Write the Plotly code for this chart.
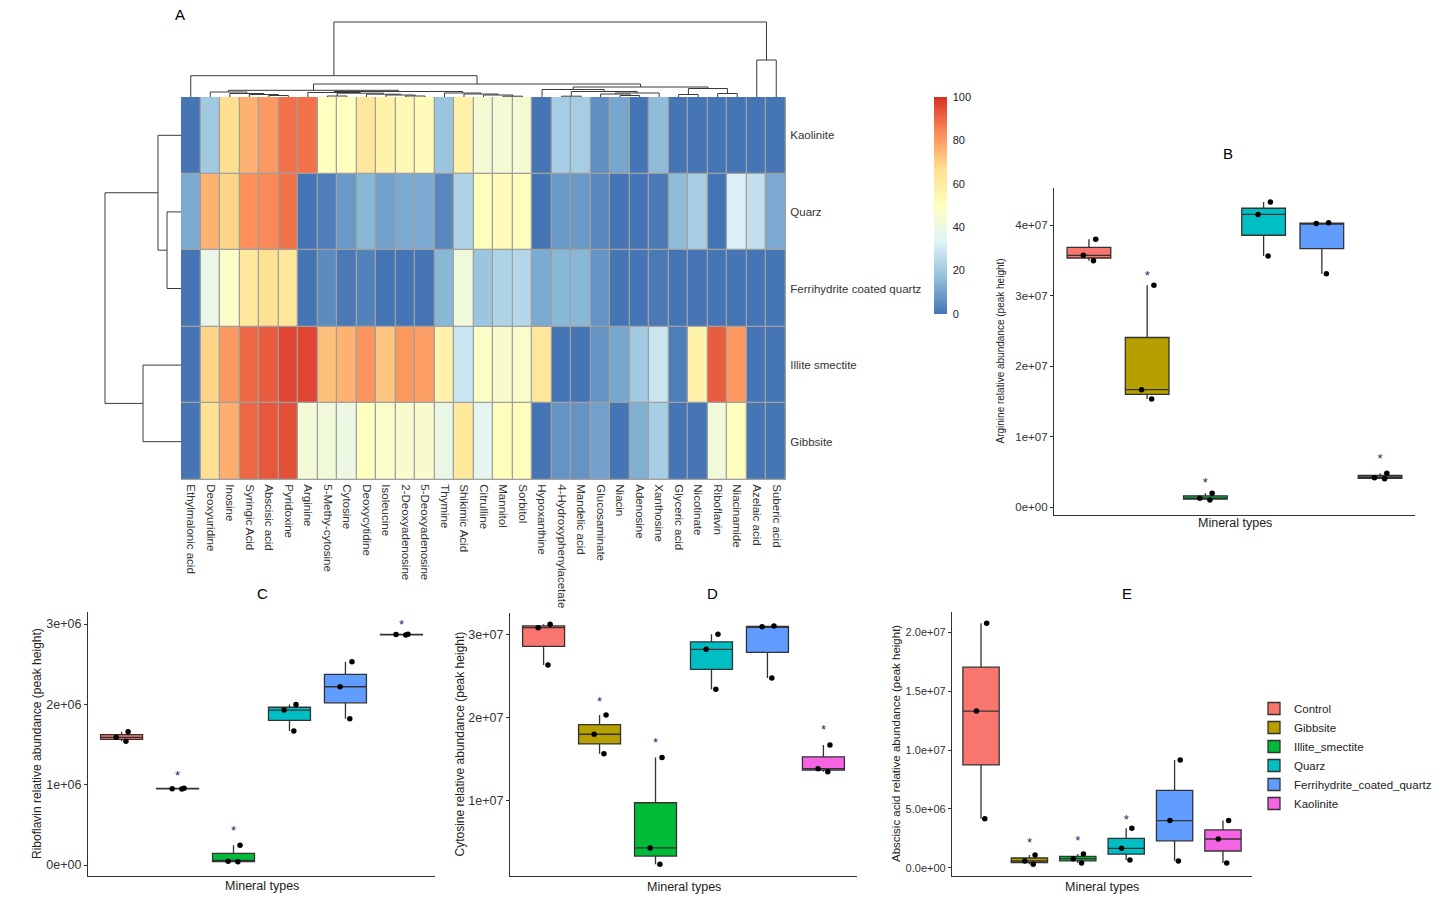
import plotly.graph_objects as go

W, H = 1448, 906

# ---------------- Heatmap data ----------------
metabolites = ["Ethylmalonic acid", "Deoxyuridine", "Inosine", "Syringic Acid", "Abscisic acid",
               "Pyridoxine", "Arginine", "5-Methy-cytosine", "Cytosine", "Deoxycytidine",
               "Isoleucine", "2-Deoxyadenosine", "5-Deoxyadenosine", "Thymine", "Shikimic Acid",
               "Citrulline", "Mannitol", "Sorbitol", "Hypoxanthine", "4-Hydroxyphenylacetate",
               "Mandelic acid", "Glucosaminate", "Niacin", "Adenosine", "Xanthosine",
               "Glyceric acid", "Nicotinate", "Riboflavin", "Niacinamide", "Azelaic acid",
               "Suberic acid"]
heat_rows = ["Kaolinite", "Quarz", "Ferrihydrite coated quartz", "Illite smectite", "Gibbsite"]

kaolinite_vals = [0, 20, 67, 76, 81, 88, 88, 50, 50, 63, 57, 54, 52, 19, 58, 44, 44, 44,
                  0, 21, 21, 6, 11, 0, 16, 0, 0, 0, 0, 0, 0]
quarz_vals = [12, 76, 69, 83, 84, 88, 0, 2, 8, 15, 10, 12, 12, 4, 23, 51, 52, 51,
              0, 8, 8, 4, 0, 0, 1, 16, 21, 0, 32, 27, 12]
ferri_vals = [0, 38, 48, 62, 66, 63, 0, 5, 1, 3, 0, 0, 0, 15, 42, 19, 23, 24,
              12, 15, 15, 7, 0, 0, 1, 0, 0, 0, 0, 0, 0]
illite_vals = [0, 69, 81, 90, 92, 96, 96, 73, 76, 82, 72, 81, 80, 57, 29, 48, 46, 47,
               63, 0, 0, 7, 11, 20, 29, 2, 57, 92, 81, 0, 0]
gibbsite_vals = [0, 66, 77, 90, 93, 94, 43, 42, 40, 50, 47, 46, 46, 39, 62, 36, 51, 51,
                 0, 7, 7, 10, 0, 13, 21, 0, 0, 42, 51, 0, 0]

# dendrogram merges: (child a, child b, height); leaves 0..n-1, new clusters n, n+1, ...
col_merges = [(4, 5, 1.5), (3, 31, 2.5), (2, 32, 3.5), (1, 33, 5.0),
              (7, 8, 1.0), (11, 12, 1.0), (10, 36, 2.0), (9, 37, 2.8), (35, 38, 3.8), (6, 39, 4.5),
              (16, 17, 0.8), (15, 41, 2.0), (14, 42, 3.0), (13, 43, 4.0), (40, 44, 5.5),
              (34, 45, 6.7),
              (19, 20, 0.8), (22, 23, 1.5), (21, 48, 3.0), (49, 24, 4.0), (47, 50, 5.5), (18, 51, 7.5),
              (25, 26, 2.5), (27, 28, 3.5), (53, 54, 8.5), (52, 55, 10.0),
              (46, 56, 13.0), (0, 57, 21.3), (29, 30, 37.0), (58, 59, 75.0)]
row_merges = [(1, 2, 14.0), (0, 5, 23.0), (3, 4, 38.0), (6, 7, 76.0)]

# ---------------- Box plot data ----------------
groups = ["Control", "Gibbsite", "Illite_smectite", "Quarz", "Ferrihydrite_coated_quartz", "Kaolinite"]
group_colors = ["#F8766D", "#B79F00", "#00BA38", "#00BFC4", "#619CFF", "#F564E3"]

arginine = [[3.797e7, 3.57e7, 3.494e7], [3.145e7, 1.664e7, 1.532e7], [0.194e7, 0.123e7, 0.099e7],
            [4.326e7, 4.15e7, 3.56e7], [4.033e7, 4.02e7, 3.31e7], [0.478e7, 0.416e7, 0.40e7]]
arginine_star = [None, 3.27e7, 0.336e7, None, None, 0.677e7]

riboflavin = [[1.66e6, 1.59e6, 1.54e6], [0.955e6, 0.95e6, 0.945e6], [0.245e6, 0.047e6, 0.040e6],
              [2.0e6, 1.93e6, 1.67e6], [2.53e6, 2.22e6, 1.82e6], [2.875e6, 2.87e6, 2.865e6]]
riboflavin_star = [None, 1.10e6, 0.41e6, None, None, 2.98e6]

cytosine = [[3.12e7, 3.08e7, 2.63e7], [2.03e7, 1.80e7, 1.567e7], [1.52e7, 0.435e7, 0.24e7],
            [3.0e7, 2.82e7, 2.34e7], [3.10e7, 3.09e7, 2.475e7], [1.67e7, 1.387e7, 1.35e7]]
cytosine_star = [None, 2.175e7, 1.69e7, None, None, 1.84e7]

abscisic = [[2.077e7, 1.331e7, 0.416e7], [0.108e7, 0.057e7, 0.029e7], [0.116e7, 0.077e7, 0.040e7],
            [0.335e7, 0.165e7, 0.065e7], [0.915e7, 0.40e7, 0.057e7], [0.40e7, 0.244e7, 0.040e7]]
abscisic_star = [None, 0.20e7, 0.22e7, 0.40e7, None, None]

# ---------------- helpers ----------------
def fx(px):
    return px / W


def fy(py):
    return 1 - py / H


def dendro(n, merges):
    pos = {i: float(i) for i in range(n)}
    hgt = {i: 0.0 for i in range(n)}
    p, h = [], []
    for k, (a, b, ht) in enumerate(merges):
        for c in (a, b):
            p += [pos[c], pos[c], None]
            h += [hgt[c], ht, None]
        p += [pos[a], pos[b], None]
        h += [ht, ht, None]
        pos[n + k] = (pos[a] + pos[b]) / 2
        hgt[n + k] = ht
    return p, h


def label(text, px, py, size, angle=0, color="#222222"):
    return dict(text=text, x=fx(px), y=fy(py), xref="paper", yref="paper", showarrow=False,
                xanchor="center", yanchor="middle", textangle=angle,
                font=dict(size=size, color=color, family=FONT))


fig = go.Figure()

TXT = "#222222"
FONT = "Liberation Sans, Arial, sans-serif"

# ---------------- Heatmap ----------------
colorscale = [[0, "#4575B4"], [1 / 6, "#91BFDB"], [2 / 6, "#E0F3F8"], [0.5, "#FFFFBF"],
              [4 / 6, "#FEE090"], [5 / 6, "#FC8D59"], [1, "#D73027"]]
zmat = [kaolinite_vals, quarz_vals, ferri_vals, illite_vals, gibbsite_vals]
ncol, nrow = len(metabolites), len(heat_rows)
fig.add_trace(go.Heatmap(
    z=zmat, x=list(range(ncol)), y=list(range(nrow)), zmin=0, zmax=100,
    colorscale=colorscale, xgap=1.3, ygap=1.3, xaxis="x", yaxis="y",
    colorbar=dict(x=fx(934), xanchor="left", y=fy(97), yanchor="top", len=217 / H,
                  lenmode="fraction", thickness=13, outlinewidth=0, xpad=0, ypad=0,
                  tickvals=[0, 20, 40, 60, 80, 100], ticks="outside", ticklen=4,
                  tickcolor="rgba(0,0,0,0)",
                  tickfont=dict(size=11, color=TXT, family=FONT)),
    hoverinfo="skip"))

fig.add_shape(type="rect", xref="x", yref="y", x0=-0.5, x1=ncol - 0.5, y0=-0.5, y1=nrow - 0.5,
              fillcolor="#A0A0A0", line=dict(color="#A0A0A0", width=1.2), layer="below")

# column dendrogram
cp, ch = dendro(ncol, col_merges)
fig.add_trace(go.Scatter(x=cp, y=ch, mode="lines", line=dict(color="#3a3a3a", width=1),
                         xaxis="x2", yaxis="y2", showlegend=False, hoverinfo="skip"))
# row dendrogram
rp, rh = dendro(nrow, row_merges)
fig.add_trace(go.Scatter(x=rh, y=rp, mode="lines", line=dict(color="#3a3a3a", width=1),
                         xaxis="x3", yaxis="y3", showlegend=False, hoverinfo="skip"))

hm_x = [fx(181), fx(786)]
hm_y = [fy(480), fy(97)]
layout = dict(
    xaxis=dict(domain=hm_x, range=[-0.5, ncol - 0.5], tickvals=list(range(ncol)), ticktext=metabolites,
               tickangle=90, ticks="outside", ticklen=1, tickcolor="rgba(0,0,0,0)",
               showgrid=False, zeroline=False, anchor="y",
               tickfont=dict(size=11.5, color="#333333", family=FONT)),
    yaxis=dict(domain=hm_y, range=[nrow - 0.5, -0.5], tickvals=list(range(nrow)), ticktext=heat_rows,
               side="right", ticks="outside", ticklen=1, tickcolor="rgba(0,0,0,0)",
               showgrid=False, zeroline=False, anchor="x",
               tickfont=dict(size=11.5, color="#333333", family=FONT)),
    xaxis2=dict(domain=hm_x, range=[-0.5, ncol - 0.5], visible=False, anchor="y2"),
    yaxis2=dict(domain=[fy(97), fy(17)], range=[0, 80], visible=False, anchor="x2"),
    xaxis3=dict(domain=[fx(101), fx(181)], range=[80, 0], visible=False, anchor="y3"),
    yaxis3=dict(domain=hm_y, range=[nrow - 0.5, -0.5], visible=False, anchor="x3"),
)

# ---------------- Box panels ----------------
panels = [
    dict(data=arginine, star=arginine_star, ax=4, xpx=(1054, 1415), ypx=(188, 515),
         yr=[-1.135e6, 4.525e7], tv=[0, 1e7, 2e7, 3e7, 4e7],
         tt=["0e+00", "1e+07", "2e+07", "3e+07", "4e+07"], title="B", tpos=(1228, 154),
         ylab="Arginine relative abundance (peak height)", ylsize=10, ylx=1000, xly=523, tfs=11.5),
    dict(data=riboflavin, star=riboflavin_star, ax=5, xpx=(88, 435), ypx=(612, 876),
         yr=[-0.137e6, 3.151e6], tv=[0, 1e6, 2e6, 3e6],
         tt=["0e+00", "1e+06", "2e+06", "3e+06"], title="C", tpos=(262, 593),
         ylab="Riboflavin relative abundance (peak height)", ylsize=12, ylx=37, xly=886, tfs=12.5),
    dict(data=cytosine, star=cytosine_star, ax=6, xpx=(510, 857), ypx=(613, 876),
         yr=[0.984e6, 3.2557e7], tv=[1e7, 2e7, 3e7],
         tt=["1e+07", "2e+07", "3e+07"], title="D", tpos=(712, 593),
         ylab="Cytosine relative abundance (peak height)", ylsize=12, ylx=459, xly=887, tfs=12.5),
    dict(data=abscisic, star=abscisic_star, ax=7, xpx=(952, 1252), ypx=(612, 876),
         yr=[-0.705e6, 2.1725e7], tv=[0, 5e6, 1e7, 1.5e7, 2e7],
         tt=["0.0e+00", "5.0e+06", "1.0e+07", "1.5e+07", "2.0e+07"], title="E", tpos=(1127, 593),
         ylab="Abscisic acid relative abundance (peak height)", ylsize=11.5, ylx=896, xly=887, tfs=11),
]

annotations = [label("A", 180, 15, 15, color="#000000")]

for p in panels:
    k = p["ax"]
    xa, ya = f"x{k}", f"y{k}"
    for gi, (g, col) in enumerate(zip(groups, group_colors)):
        fig.add_trace(go.Box(
            x=[g] * len(p["data"][gi]), y=p["data"][gi], name=g, legendgroup=g,
            showlegend=(k == 7), xaxis=xa, yaxis=ya, width=0.75,
            fillcolor=col, line=dict(color="#333333", width=1.3), whiskerwidth=0,
            boxpoints="all", jitter=0.4, pointpos=0, quartilemethod="inclusive",
            marker=dict(color="#000000", size=5.5), hoverinfo="skip"))
    sx = [g for g, s in zip(groups, p["star"]) if s is not None]
    sy = [s for s in p["star"] if s is not None]
    fig.add_trace(go.Scatter(x=sx, y=sy, mode="text", text=["*"] * len(sx), textposition="middle center",
                             textfont=dict(size=13, color="#1b2a66", family=FONT),
                             xaxis=xa, yaxis=ya, showlegend=False, hoverinfo="skip"))
    x0, x1 = p["xpx"]
    yt, yb = p["ypx"]
    layout[f"xaxis{k}"] = dict(domain=[fx(x0), fx(x1)], anchor=ya, type="category",
                               categoryorder="array", categoryarray=groups, range=[-0.6, 5.6],
                               showticklabels=False, ticks="", showline=True, linecolor="#333333",
                               linewidth=1.2, showgrid=False, zeroline=False)
    layout[f"yaxis{k}"] = dict(domain=[fy(yb), fy(yt)], anchor=xa, range=p["yr"], tickvals=p["tv"],
                               ticktext=p["tt"], ticks="outside", ticklen=3, tickcolor="#333333",
                               showline=True, linecolor="#333333", linewidth=1.2, showgrid=False,
                               zeroline=False, tickfont=dict(size=p["tfs"], color="#333333", family=FONT))
    annotations.append(label(p["title"], p["tpos"][0], p["tpos"][1], 15, color="#000000"))
    annotations.append(label("Mineral types", (x0 + x1) / 2, p["xly"], 12.5))
    annotations.append(label(p["ylab"], p["ylx"], (yt + yb) / 2, p["ylsize"], angle=-90))

fig.update_layout(
    width=W, height=H, autosize=False, margin=dict(l=0, r=0, t=0, b=0),
    paper_bgcolor="white", plot_bgcolor="white", boxmode="overlay",
    font=dict(family=FONT, color=TXT),
    legend=dict(x=fx(1254), y=fy(694), xanchor="left", yanchor="top",
                font=dict(size=11.5, color=TXT, family=FONT), bgcolor="rgba(0,0,0,0)",
                tracegroupgap=0, itemwidth=30),
    annotations=annotations,
    **layout)

fig.write_html("out.html", config={"displayModeBar": False},
               post_script="document.body.style.margin='0';document.body.style.overflow='hidden';")
